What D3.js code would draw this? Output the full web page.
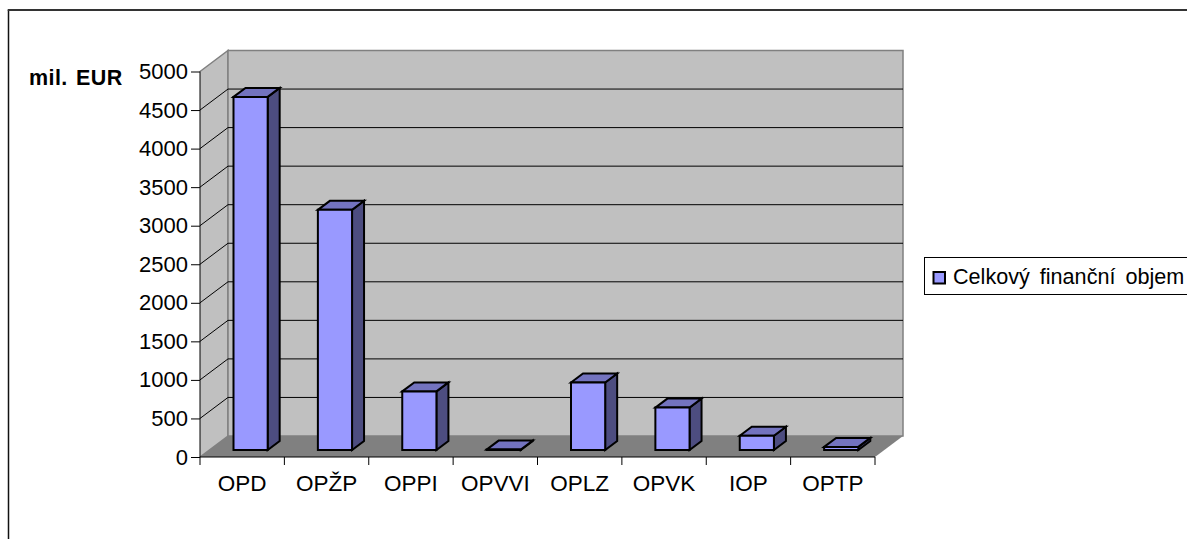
<!DOCTYPE html>
<html><head><meta charset="utf-8">
<script src="https://cdn.jsdelivr.net/npm/d3@7"></script>
<style>
html,body{margin:0;padding:0;background:#fff;overflow:hidden}
svg{display:block}
text{font-family:"Liberation Sans",Arial,sans-serif;fill:#000}
</style></head><body>
<svg id="c" width="1187" height="539"></svg>
<script>
const categories = ["OPD","OPŽP","OPPI","OPVVI","OPLZ","OPVK","IOP","OPTP"];
const values = [4580,3115,760,5,875,550,185,40];
const yTicks = [0,500,1000,1500,2000,2500,3000,3500,4000,4500,5000];
const seriesName = "Celkový finanční objem";
const unitLabel = "mil. EUR";

const svg = d3.select("#c");
const pLeft=200, pRight=875, pTop=71.5, pBottom=457, dx=28, dy=21;
const x = d3.scaleBand().domain(categories).range([pLeft,pRight]).paddingInner(0.595).paddingOuter(0.2975);
const y = d3.scaleLinear().domain([0,5000]).range([pBottom,pTop]);
const path = pts => d3.line()(pts);
const wallGray="#c0c0c0", floorGray="#808080", edgeGray="#808080";
const front="#9999ff", topC="#7373bf", sideC="#4d4d80";

// frame
svg.append("path").attr("d","M8.5,539V10").attr("fill","none").attr("stroke","#111").attr("stroke-width",1.5);
svg.append("path").attr("d","M7.7,10H1187").attr("fill","none").attr("stroke","#333").attr("stroke-width",2);

// walls and floor
svg.append("path").attr("d",path([[pLeft,pTop],[pLeft+dx,pTop-dy],[pLeft+dx,pBottom-dy],[pLeft,pBottom]]))
  .attr("fill",wallGray).attr("stroke",edgeGray).attr("stroke-width",1.5);
svg.append("path").attr("d",path([[pLeft+dx,pTop-dy],[pRight+dx,pTop-dy],[pRight+dx,pBottom-dy],[pLeft+dx,pBottom-dy]])+"Z")
  .attr("fill",wallGray).attr("stroke",edgeGray).attr("stroke-width",1.5);
svg.append("path").attr("d",path([[pLeft,pBottom],[pLeft+dx,pBottom-dy],[pRight+dx,pBottom-dy],[pRight,pBottom]])+"Z")
  .attr("fill",floorGray);

// gridlines
const gridTicks = yTicks.filter(t=>t>0 && t<5000);
svg.append("g").selectAll("path").data(gridTicks).join("path")
  .attr("d",t=>path([[pLeft,y(t)],[pLeft+dx,y(t)-dy],[pRight+dx,y(t)-dy]]))
  .attr("fill","none").attr("stroke","#000").attr("stroke-width",1);

// axes
const axisL = d3.axisLeft(y).tickValues(yTicks).tickSize(9).tickPadding(3).tickFormat(d3.format("d"));
const gy = svg.append("g").attr("transform",`translate(${pLeft},0)`).call(axisL);
gy.select(".domain").attr("d",`M0,${pTop}V${pBottom}`).attr("stroke","#000");
gy.selectAll("text").attr("font-size",22).attr("font-family","Liberation Sans");
gy.selectAll("line").attr("stroke","#000");

const xTickScale = d3.scaleLinear().domain([0,categories.length]).range([pLeft,pRight]);
const gx = svg.append("g").attr("transform",`translate(0,${pBottom})`);
gx.append("line").attr("x1",pLeft).attr("x2",pRight).attr("stroke","#000");
gx.selectAll(".t").data(d3.range(categories.length+1)).join("line").attr("class","t")
  .attr("x1",xTickScale).attr("x2",xTickScale).attr("y2",8).attr("stroke","#000");
gx.selectAll("text").data(categories).join("text")
  .attr("x",d=>x(d)+x.bandwidth()/2).attr("y",34)
  .attr("text-anchor","middle").attr("font-size",22.5).text(d=>d);

// bars
const bx=8.4, by=7, bdx=12, bdy=9;
const bars = svg.append("g").selectAll("g").data(categories.map((c,i)=>({c,v:values[i]}))).join("g")
  .attr("stroke","#000").attr("stroke-width",2).attr("stroke-linejoin","miter");
const X0=d=>x(d.c)+bx, X1=d=>X0(d)+x.bandwidth(), B=()=>pBottom-by, T=d=>y(d.v)-by;
bars.append("path").attr("fill",sideC).attr("d",d=>path([[X1(d),T(d)],[X1(d)+bdx,T(d)-bdy],[X1(d)+bdx,B()-bdy],[X1(d),B()]])+"Z");
bars.append("path").attr("fill",topC).attr("d",d=>path([[X0(d),T(d)],[X0(d)+bdx,T(d)-bdy],[X1(d)+bdx,T(d)-bdy],[X1(d),T(d)]])+"Z");
bars.append("path").attr("fill",front).attr("d",d=>path([[X0(d),T(d)],[X1(d),T(d)],[X1(d),B()],[X0(d),B()]])+"Z");

// unit label
svg.append("text").attr("x",29).attr("y",85).attr("font-size",21.5).attr("font-weight","bold").attr("letter-spacing",0.4).attr("word-spacing",2).text(unitLabel);

// legend
const lg = svg.append("g");
lg.append("rect").attr("x",924.5).attr("y",257.5).attr("width",270).attr("height",37).attr("fill","#fff").attr("stroke","#000");
lg.append("rect").attr("x",933.5).attr("y",272).attr("width",11.5).attr("height",11.5).attr("fill",front).attr("stroke","#000").attr("stroke-width",2);
lg.append("text").attr("x",953).attr("y",284).attr("font-size",21.6).attr("word-spacing",4).text(seriesName);
</script></body></html>
